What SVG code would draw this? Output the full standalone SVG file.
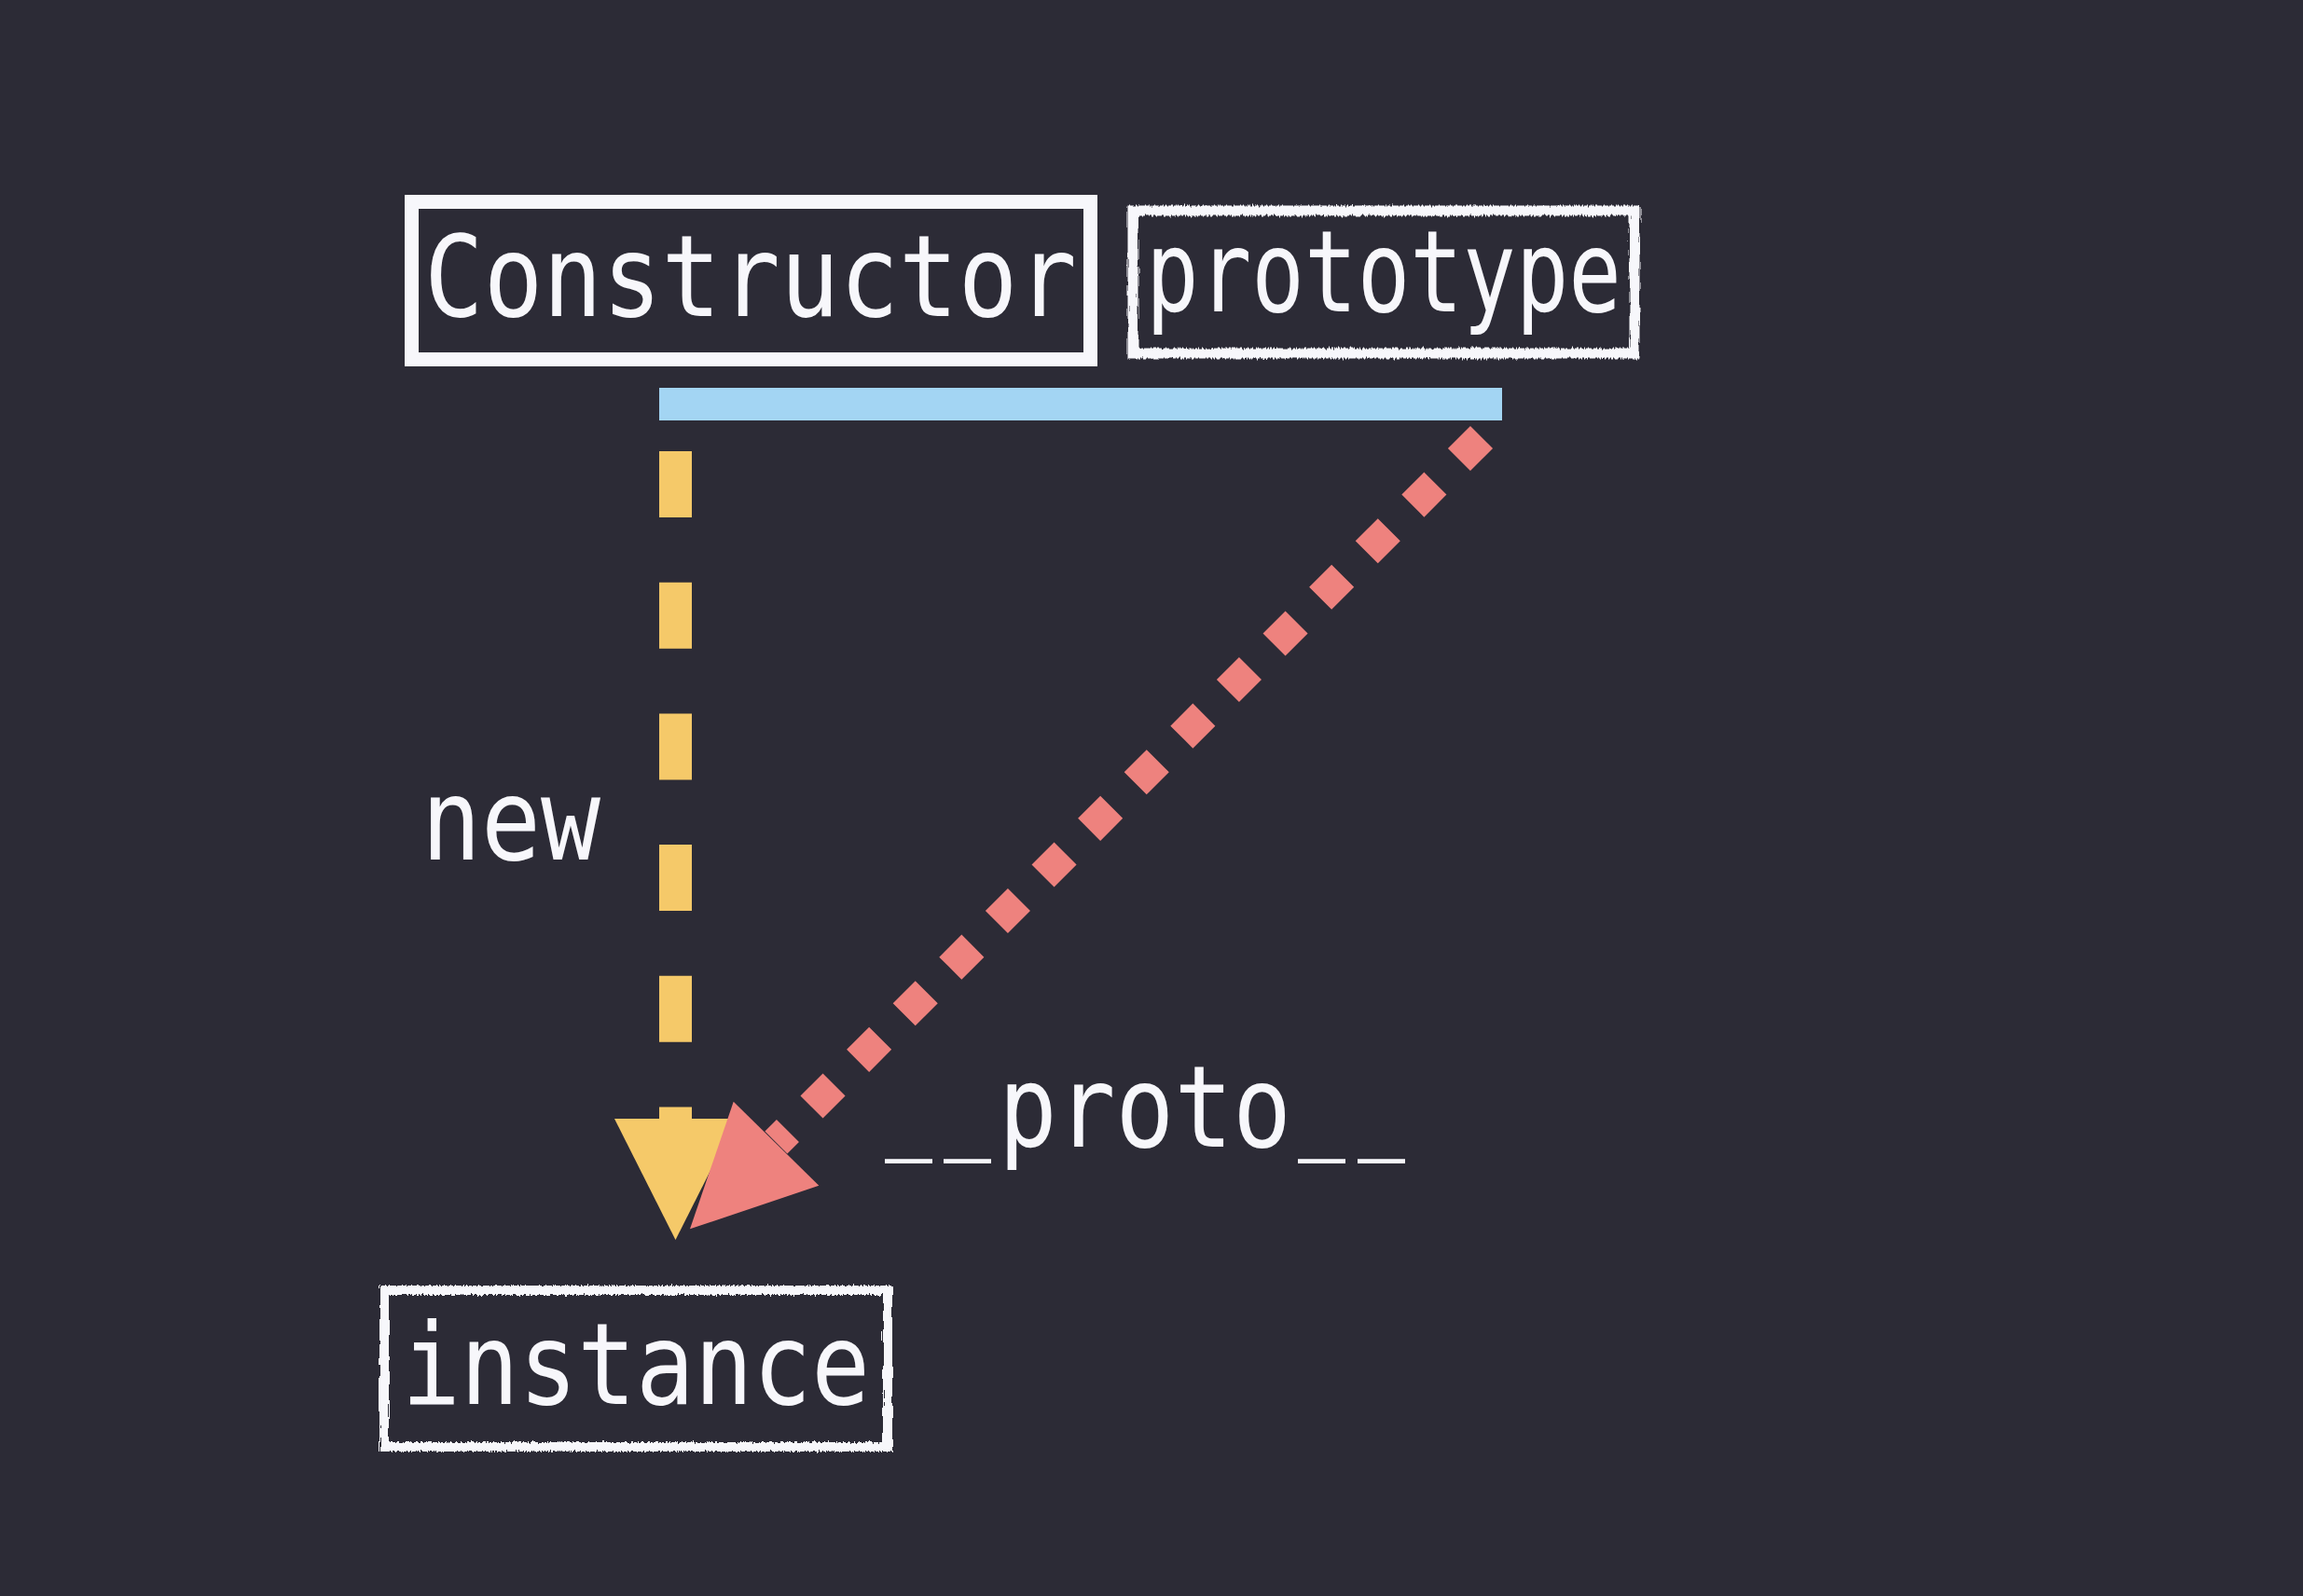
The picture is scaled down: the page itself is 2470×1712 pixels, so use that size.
<svg xmlns="http://www.w3.org/2000/svg" width="2470" height="1712" viewBox="0 0 2470 1712">
  <style>
    .txt { font-family: "DejaVu Sans Mono", "Liberation Mono", monospace; font-size: 122px; fill: #f7f7fb; }
    .box { fill: none; stroke: #f7f7fb; }
    .rough { filter: url(#chalk); }
  </style>
  <defs>
    <filter id="chalk" x="-5%" y="-10%" width="110%" height="120%">
      <feTurbulence type="fractalNoise" baseFrequency="0.6 0.05" numOctaves="2" seed="4" result="n"/>
      <feDisplacementMap in="SourceGraphic" in2="n" scale="6" xChannelSelector="R" yChannelSelector="G"/>
    </filter>
  </defs>
  <rect x="0" y="0" width="2470" height="1712" fill="#2c2b36"/>

  <g id="node-constructor">
    <rect class="box" x="441.5" y="216.5" width="728" height="169" stroke-width="15"/>
    <text class="txt" x="455" y="339" textLength="700" lengthAdjust="spacingAndGlyphs">Constructor</text>
  </g>

  <g id="node-prototype">
    <rect class="box rough" x="1215" y="226" width="538" height="153" stroke-width="11"/>
    <text class="txt" x="1229" y="334" textLength="510" lengthAdjust="spacingAndGlyphs">prototype</text>
  </g>

  <g id="node-instance">
    <rect class="box rough" x="412" y="1384" width="540" height="168" stroke-width="10"/>
    <text class="txt" x="431" y="1506" textLength="502" lengthAdjust="spacingAndGlyphs">instance</text>
  </g>

  <g id="connectors">
    <rect x="707" y="416" width="904" height="35" fill="#a3d5f3"/>
    <line x1="724.5" y1="484" x2="724.5" y2="1200" stroke="#f5c969" stroke-width="35" stroke-dasharray="71 69.7"/>
    <polygon points="659,1200 790,1200 724.5,1330" fill="#f5c969"/>
    <line x1="1589" y1="469" x2="832.4" y2="1225.6" stroke="#ee827e" stroke-width="34" stroke-dasharray="34 36.15"/>
    <polygon points="786.7,1181.7 878.3,1271.7 740,1318.3" fill="#ee827e"/>
    <text class="txt" x="452" y="922" textLength="192" lengthAdjust="spacingAndGlyphs">new</text>
    <text class="txt" x="949" y="1230"><tspan x="949" y="1219" textLength="51" lengthAdjust="spacingAndGlyphs">_</tspan><tspan x="1012" y="1219" textLength="51" lengthAdjust="spacingAndGlyphs">_</tspan><tspan x="1071" y="1230" textLength="314" lengthAdjust="spacingAndGlyphs">proto</tspan><tspan x="1392" y="1219" textLength="51" lengthAdjust="spacingAndGlyphs">_</tspan><tspan x="1456" y="1219" textLength="51" lengthAdjust="spacingAndGlyphs">_</tspan></text>
  </g>
</svg>
